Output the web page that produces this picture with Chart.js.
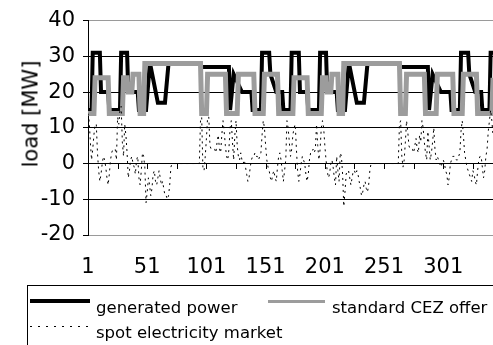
<!DOCTYPE html>
<html>
<head>
<meta charset="utf-8">
<script src="https://cdn.jsdelivr.net/npm/chart.js@4.4.1/dist/chart.umd.min.js"></script>
<style>
  html, body { margin: 0; padding: 0; background: #fff; overflow: hidden; }
  #wrap { position: relative; width: 493px; height: 345px; overflow: hidden;
          font-family: 'DejaVu Sans', Verdana, sans-serif; color: #000; }
  #chart { position: absolute; left: 0; top: 0; }
  .ytitle { position: absolute; left: 31px; top: 114px; font-size: 21px; line-height: 1;
            white-space: nowrap; transform: translate(-50%, -50%) rotate(-90deg); }
  .legend { position: absolute; left: 27px; top: 285px; width: 490px; height: 90px;
            border: 1px solid #000; font-size: 16.5px; }
  .item { position: absolute; white-space: nowrap; line-height: 19px; }
  .sample { position: absolute; }
</style>
</head>
<body>
<div id="wrap">
  <canvas id="chart" width="493" height="345"></canvas>
  <div class="ytitle">load [MW]</div>
  <div class="legend">
    <div class="sample" style="left:2px;top:13px;width:60px;height:4px;background:#000"></div>
    <div class="item" style="left:68px;top:12px">generated power</div>
    <div class="sample" style="left:240px;top:14px;width:57px;height:3px;background:#9c9c9c"></div>
    <div class="item" style="left:304px;top:12px">standard CEZ offer</div>
    <div class="sample" style="left:2px;top:40px;width:60px;height:1px;background:repeating-linear-gradient(to right,#000 0 2px,transparent 2px 8px)"></div>
    <div class="item" style="left:68px;top:37px">spot electricity market</div>
  </div>
</div>
<script>
// hour index on the x axis (1 = first hour of the two weeks)
const xTicks = [1, 51, 101, 151, 201, 251, 301];
const xMinorTicks = [1, 26, 51, 76, 101, 126, 151, 176, 201, 226, 251, 276, 301, 326];
const yTicks = [-20, -10, 0, 10, 20, 30, 40];

// generated power [MW] - values at the hours where the level changes
const genHours = [1, 4, 5, 11, 12, 18, 19, 28, 29, 34, 35, 43, 44, 50, 53, 54, 60, 66, 69, 96, 97,
  120, 121, 124, 131, 139, 140, 147, 148, 154, 155, 160, 165, 166,
  172, 173, 179, 180, 186, 187, 196, 197, 202, 203, 211, 212, 218, 221, 222, 228, 234, 237, 264, 265,
  288, 289, 292, 299, 307, 308, 315, 316, 322, 323, 328, 333, 334, 340, 341, 346];
const genMW = [15, 15, 31, 31, 20, 20, 15, 15, 31, 31, 20, 20, 15, 15, 27, 27, 17, 17, 28, 28, 27,
  27, 15, 25, 20, 20, 15, 15, 31, 31, 25, 20, 20, 15,
  15, 31, 31, 20, 20, 15, 15, 31, 31, 20, 20, 15, 15, 27, 27, 17, 17, 28, 28, 27,
  27, 15, 25, 20, 20, 15, 15, 31, 31, 25, 20, 20, 15, 15, 31, 31];

// standard CEZ offer [MW]
const cezHours = [1, 6, 7, 18, 19, 30, 31, 34, 35, 38, 39, 44, 45, 48, 49, 96, 97, 101, 102,
  117, 118, 127, 128, 141, 142, 149, 150, 161, 162,
  174, 175, 186, 187, 198, 199, 202, 203, 206, 207, 212, 213, 216, 217, 264, 265, 269, 270,
  285, 286, 295, 296, 309, 310, 317, 318, 329, 330, 342, 343, 346];
const cezMW = [14, 14, 24, 24, 14, 14, 24, 24, 20, 20, 25, 25, 14, 14, 28, 28, 14, 14, 25,
  25, 14, 14, 25, 25, 14, 14, 25, 25, 14,
  14, 24, 24, 14, 14, 24, 24, 20, 20, 25, 25, 14, 14, 28, 28, 14, 14, 25,
  25, 14, 14, 25, 25, 14, 14, 25, 25, 14, 14, 24, 24];

// spot electricity market [MW], hourly
const spotWeek1 = [
  14, 12, 6, 1, 4, 8, 11, 11, 3, -2, -5, -3, 0, 2, 1, -1, -4, -6, -3, 1, 3, 4, 4, 4,
  1, 13, 11, 15, 16, 6, 2, 11, 8, 3, -4, -2, 1, 2, 0, -1, -3, 1, 2, -4, -6, -2, 3, 2,
  -1, -11, -8, -4, -6, -9, -7, -3, -2, -5, -6, -4, -2, -4, -6, -5, -7, -9, -9, -10, -9, -6, -1, 0,
  0, 0, 0, 0, 0, 0, 0, 0, 0, 0, 0, 0, 0, 0, 0, 0, 0, 0, 0, 0, 0, 0, 0, 12,
  13, -1, -2, 2, 7, 13, 13, 5, 4, 4, 4, 4, 3, 6, 8, 4, 3, 8, 12, 9, 5, 2, 1, 4,
  10, 12, 6, 1, 8, 12, 5, 2, 1, 3, 1, 0, 1, -1, -3, -5, -4, -1, 1, 2, 2, 3, 2, 2,
  1, 2, 3, 8, 12, 10, 5, 1, -1, -2, -4, -5, -3, -2, -4, -5, -1, 2, 3, 1, -2, -5, -2, 1];
const spotWeek2 = [
  12, 10, 6, 2, 4, 8, 10, 11, 4, -2, -5, -3, 0, 2, 1, 0, -3, -5, -3, 1, 3, 3, 4, 3,
  4, 11, 5, 1, 4, 10, 12, 10, 5, 1, -2, -4, -3, 0, 1, -1, -4, -6, 2, -2, -5, 3, 2, -3,
  -12, -8, -3, -2, -2, -4, -6, -4, -2, -2, -3, -2, -3, -5, -7, -9, -8, -6, -5, -7, -8, -6, -2, 0,
  0, 0, 0, 0, 0, 0, 0, 0, 0, 0, 0, 0, 0, 0, 0, 0, 0, 0, 0, 0, 0, 0, 0, 11,
  12, 2, -1, 1, 6, 12, 9, 5, 4, 4, 4, 3, 5, 7, 4, 3, 8, 6, 12, 10, 6, 3, 1, 9,
  5, 1, 3, 6, 10, 4, 1, 2, 1, 0, -1, 0, 1, 0, -2, -3, -6, -4, 0, 1, 2, 2, 2, 1,
  1, 2, 3, 9, 12, 8, 3, 1, -1, -2, -3, -4, -5, -2, -3, -5, -6, -2, 1, 2, 2, -1, -4, -2];
const spotWeek3 = [2, 4, 9, 12, 15, 12, 8, 5, 3, 2];
const spotMW = spotWeek1.concat(spotWeek2, spotWeek3);

const zeroAxisTicks = {
  id: 'zeroAxisTicks',
  beforeDatasetsDraw(chart) {
    const { ctx, scales: { x, y } } = chart;
    const y0 = Math.round(y.getPixelForValue(0));
    ctx.save();
    ctx.strokeStyle = '#000';
    ctx.lineWidth = 1;
    ctx.beginPath();
    xMinorTicks.forEach(v => {
      const px = Math.round(x.getPixelForValue(v)) + 0.5;
      ctx.moveTo(px, y0);
      ctx.lineTo(px, y0 + 5);
    });
    ctx.stroke();
    ctx.restore();
  }
};

const font = 'DejaVu Sans, Verdana, sans-serif';

new Chart(document.getElementById('chart'), {
  type: 'line',
  data: {
    datasets: [{
      label: 'generated power',
      data: genHours.map((h, i) => ({ x: h, y: genMW[i] })),
      borderColor: '#000',
      borderWidth: 4,
      order: 2
    }, {
      label: 'standard CEZ offer',
      data: cezHours.map((h, i) => ({ x: h, y: cezMW[i] })),
      borderColor: '#9c9c9c',
      borderWidth: 5,
      order: 1
    }, {
      label: 'spot electricity market',
      data: spotMW.map((v, i) => ({ x: i + 1, y: v })),
      borderColor: '#000',
      borderWidth: 1,
      borderDash: [2, 4],
      order: 0
    }]
  },
  options: {
    responsive: false,
    animation: false,
    elements: {
      point: { radius: 0 },
      line: { tension: 0, fill: false, borderJoinStyle: 'miter' }
    },
    layout: { padding: { left: 0, top: 20, right: 0, bottom: 60 } },
    plugins: { legend: { display: false }, tooltip: { enabled: false } },
    scales: {
      x: {
        type: 'linear',
        min: 1,
        max: 343,
        afterBuildTicks: scale => { scale.ticks = xTicks.map(v => ({ value: v })); },
        afterFit: scale => { scale.height = 50; },
        grid: { display: false, drawTicks: false },
        border: { display: false },
        ticks: { autoSkip: false, maxRotation: 0, padding: 20, color: '#000',
                 font: { family: font, size: 21 } }
      },
      y: {
        min: -20,
        max: 40,
        afterBuildTicks: scale => { scale.ticks = yTicks.map(v => ({ value: v })); },
        afterFit: scale => { scale.width = 88; },
        grid: {
          color: c => (c.tick && (c.tick.value === 40 || c.tick.value === -20)) ? '#9a9a9a' : '#000',
          tickColor: '#000',
          tickLength: 5,
          lineWidth: 1
        },
        border: { display: true, color: '#000', width: 1 },
        ticks: { padding: 8, color: '#000', font: { family: font, size: 21 } }
      }
    }
  },
  plugins: [zeroAxisTicks]
});
</script>
</body>
</html>
